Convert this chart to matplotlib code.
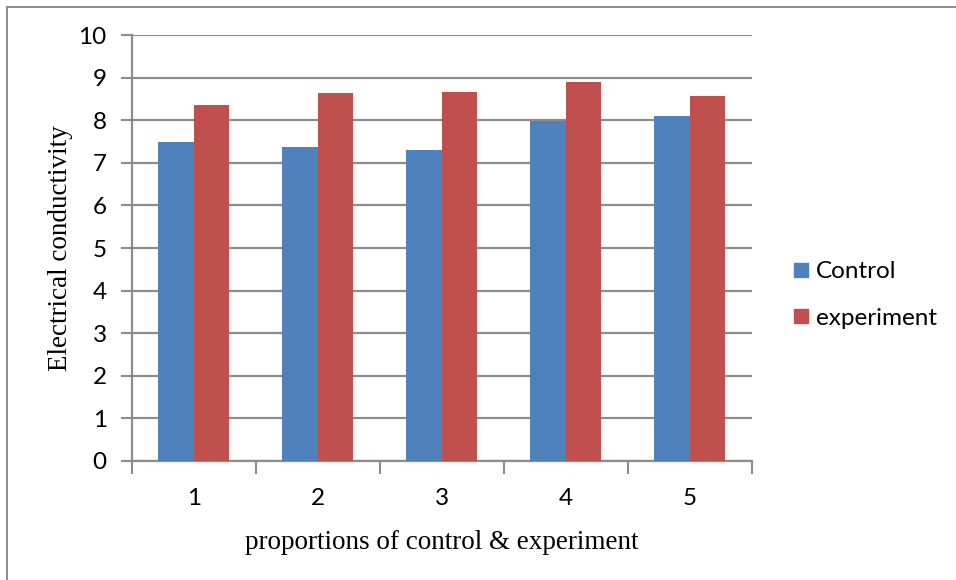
import matplotlib
matplotlib.use("Agg")
import matplotlib.pyplot as plt
import numpy as np
from matplotlib.lines import Line2D

categories = ["1", "2", "3", "4", "5"]
control = [7.49, 7.37, 7.31, 7.98, 8.10]
experiment = [8.36, 8.65, 8.67, 8.91, 8.57]
y_ticks = [0, 1, 2, 3, 4, 5, 6, 7, 8, 9, 10]

BLUE = "#4f81bd"
RED = "#c0504d"
GRID = "#8c8c8c"

fig = plt.figure(figsize=(9.56, 5.8), dpi=100)
W, H = 956, 580
ax = fig.add_axes([131.7 / W, 1 - 460.7 / H, 620 / W, 425.4 / H])

x = np.arange(len(categories))
bw = 1 / 3.5
ax.bar(x - bw / 2, control, width=bw, color=BLUE, label="Control", zorder=3)
ax.bar(x + bw / 2, experiment, width=bw, color=RED, label="experiment", zorder=3)

ax.set_xlim(-0.5, len(categories) - 0.5)
ax.set_ylim(0, 10)
ax.set_yticks(y_ticks)
ax.set_yticklabels([str(t) for t in y_ticks], fontsize=17.5, family="Lato")
ax.yaxis.grid(True, color=GRID, linewidth=1.6, zorder=0)

# category labels at centres, tick marks at category boundaries
ax.set_xticks(x)
ax.set_xticklabels(categories, fontsize=17.5, family="Lato")
ax.tick_params(axis="x", length=0, pad=20)
ax.set_xticks(np.arange(-0.5, len(categories)), minor=True)
ax.tick_params(axis="x", which="minor", length=9, width=1.5, color=GRID, direction="out")
ax.tick_params(axis="y", length=8, width=1.5, color=GRID, pad=10)

for s in ["top", "right"]:
    ax.spines[s].set_visible(False)
for s in ["left", "bottom"]:
    ax.spines[s].set_color(GRID)
    ax.spines[s].set_linewidth(1.6)

ax.set_xlabel("proportions of control & experiment", family="Liberation Serif",
              fontsize=19.5, labelpad=15)
ax.set_ylabel("Electrical conductivity", family="Liberation Serif", fontsize=19.5,
              labelpad=4)

handles = [Line2D([], [], marker="s", linestyle="none", markersize=10,
                  markerfacecolor=c, markeredgecolor=c) for c in (BLUE, RED)]
fig.legend(handles, ["Control", "experiment"], loc="center left",
           bbox_to_anchor=(766 / W, 1 - 295 / H), frameon=False,
           prop={"family": "Lato", "size": 17.5}, handletextpad=0.05,
           labelspacing=1.05, handlelength=1.1)

# outer chart frame (top and left edges)
fig.add_artist(Line2D([6.5 / W, 1], [1 - 6.5 / H, 1 - 6.5 / H], color="#8c8c8c",
                      linewidth=1.4, transform=fig.transFigure))
fig.add_artist(Line2D([6.5 / W, 6.5 / W], [0, 1 - 6.5 / H], color="#8c8c8c",
                      linewidth=1.4, transform=fig.transFigure))

fig.savefig("out.png", dpi=100)
